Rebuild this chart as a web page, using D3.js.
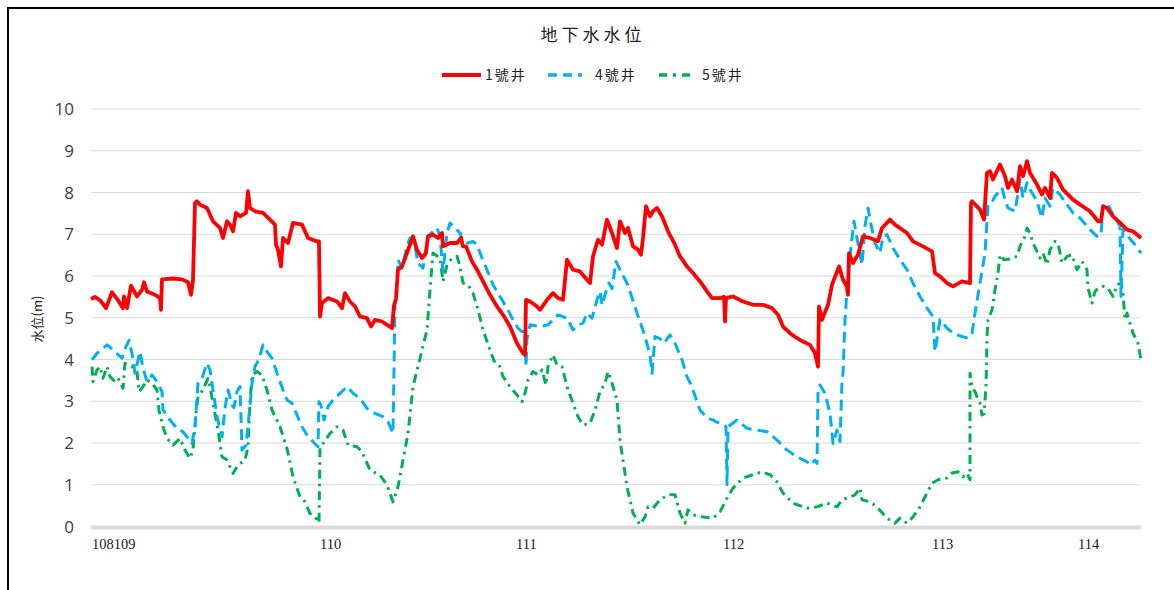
<!DOCTYPE html>
<html>
<head>
<meta charset="utf-8">
<script src="https://cdn.jsdelivr.net/npm/d3@7"></script>
<style>
  body { margin: 0; background: #fff; }
  .grid line { stroke: #d9d9d9; stroke-width: 1; }
  .ylab { font-family: "Open Sans", "Noto Sans", sans-serif; font-size: 17px; fill: #404040; }
  .xlab { font-family: "Liberation Serif", serif; font-size: 14.5px; fill: #222; }
  .cjk { font-family: "Noto Sans CJK TC", sans-serif; fill: #222; }
</style>
</head>
<body>
<svg id="svg"></svg>
<script>
// groundwater levels, x = record index, y = level (m)

var well1 = [[0,5.45],[4,5.50],[9,5.42],[15,5.23],[21,5.61],[27,5.42],[32,5.23],[33,5.51],[36,5.23],[40,5.77],[46,5.51],[51,5.67],[53,5.85],[56,5.63],[64,5.55],[69,5.47],[70,5.19],[71,5.92],[82,5.94],[91,5.92],[97,5.85],[100,5.55],[102,5.9],[104,7.75],[106,7.79],[109,7.71],[116,7.63],[122,7.31],[129,7.15],[132,6.91],[136,7.31],[139,7.23],[142,7.07],[145,7.51],[149,7.43],[155,7.51],[157,8.03],[159,7.63],[164,7.55],[172,7.51],[179,7.35],[184,7.23],[185,6.75],[187,6.63],[190,6.23],[192,6.91],[197,6.79],[202,7.27],[211,7.23],[217,6.91],[226,6.83],[228,6.83],[229,5.03],[231,5.35],[237,5.47],[246,5.39],[251,5.23],[254,5.59],[259,5.39],[264,5.27],[269,5.03],[276,4.99],[280,4.79],[284,4.95],[291,4.91],[301,4.75],[303,5.3],[305,5.45],[307,6.15],[311,6.23],[316,6.55],[322,6.95],[326,6.63],[331,6.43],[335,6.55],[337,6.95],[342,6.99],[347,6.91],[351,7.03],[352,6.71],[359,6.79],[366,6.79],[370,6.91],[372,6.71],[375,6.71],[381,6.35],[386,6.15],[392,5.87],[399,5.55],[406,5.27],[412,5.07],[419,4.79],[426,4.39],[432,4.15],[434,4.11],[435,5.43],[439,5.39],[446,5.27],[449,5.19],[456,5.43],[462,5.59],[467,5.47],[472,5.43],[476,6.39],[482,6.15],[489,6.11],[496,5.91],[499,5.83],[502,6.47],[507,6.87],[511,6.75],[516,7.35],[521,7.03],[526,6.67],[529,7.31],[534,7.03],[537,7.15],[542,6.71],[547,6.63],[550,6.51],[552,6.91],[555,7.67],[559,7.43],[562,7.55],[566,7.63],[571,7.43],[577,7.07],[584,6.75],[589,6.47],[596,6.23],[602,6.07],[609,5.87],[616,5.63],[621,5.47],[629,5.47],[633,5.50],[634,4.91],[635,5.47],[642,5.51],[652,5.39],[662,5.31],[672,5.31],[681,5.23],[687,5.07],[692,4.79],[699,4.63],[706,4.51],[712,4.43],[719,4.35],[724,4.15],[727,3.83],[728,5.27],[731,4.95],[737,5.31],[741,5.79],[748,6.23],[752,5.91],[756,5.75],[757,5.55],[758,6.55],[762,6.31],[767,6.51],[772,6.95],[779,6.91],[787,6.83],[791,7.15],[799,7.35],[804,7.23],[816,7.03],[822,6.83],[832,6.71],[841,6.59],[844,6.07],[849,5.99],[856,5.83],[862,5.75],[871,5.87],[879,5.83],[880,7.75],[881,7.79],[889,7.59],[893,7.35],[896,8.47],[899,8.51],[902,8.31],[909,8.67],[914,8.39],[917,8.11],[921,8.31],[926,8.03],[929,8.63],[932,8.39],[936,8.75],[939,8.47],[946,8.19],[951,7.95],[954,8.11],[959,7.87],[961,8.47],[966,8.35],[972,8.07],[982,7.83],[989,7.71],[999,7.55],[1007,7.31],[1010,7.31],[1012,7.67],[1016,7.63],[1022,7.43],[1031,7.23],[1036,7.11],[1042,7.07],[1050,6.91]];

var well4 = [[1,3.99],[6,4.15],[16,4.35],[22,4.23],[31,4.03],[33,4.2],[38,4.46],[41,4.15],[44,3.67],[49,4.19],[52,3.8],[56,3.47],[61,3.63],[66,3.47],[71,3.23],[72,2.79],[79,2.55],[86,2.35],[92,2.27],[101,1.99],[104,2.39],[107,3.43],[111,3.55],[116,3.91],[119,3.75],[122,3.27],[126,2.63],[131,2.15],[134,2.83],[137,3.27],[141,2.91],[143,2.85],[146,3.23],[149,3.35],[151,1.83],[155,1.95],[157,2.39],[161,3.43],[164,3.83],[168,4.0],[172,4.35],[176,4.19],[181,4.03],[186,3.67],[192,3.27],[196,3.03],[201,2.95],[206,2.67],[211,2.39],[216,2.19],[222,2.03],[227,1.91],[228,2.99],[230,2.9],[233,2.55],[237,2.87],[242,3.03],[249,3.19],[256,3.35],[262,3.19],[269,3.07],[276,2.83],[284,2.71],[292,2.63],[297,2.51],[302,2.23],[304,5.35],[306,5.83],[307,6.39],[311,6.19],[316,6.71],[319,6.91],[324,6.71],[327,6.31],[332,6.19],[337,6.95],[342,7.07],[346,7.15],[349,6.95],[352,6.11],[356,7.03],[359,7.27],[364,7.15],[369,7.03],[372,6.83],[377,6.79],[382,6.83],[386,6.75],[391,6.43],[396,6.15],[402,5.79],[409,5.51],[416,5.23],[422,4.95],[427,4.75],[431,4.67],[434,4.67],[435,3.83],[436,4.5],[439,4.83],[449,4.79],[457,4.83],[467,5.07],[476,4.99],[482,4.71],[487,4.83],[492,4.87],[496,5.11],[501,4.99],[506,5.43],[509,5.63],[511,5.3],[514,5.55],[518,5.83],[521,5.7],[525,6.35],[529,6.15],[536,5.83],[539,5.63],[546,5.11],[553,4.63],[559,4.11],[561,3.67],[564,4.55],[569,4.5],[573,4.39],[579,4.59],[584,4.39],[591,3.99],[596,3.59],[600,3.4],[609,2.79],[616,2.6],[622,2.55],[632,2.43],[635,2.40],[636,1.0],[637,2.39],[646,2.55],[656,2.35],[666,2.31],[676,2.27],[686,2.07],[696,1.83],[706,1.67],[716,1.55],[719,1.47],[724,1.59],[726,1.51],[727,3.23],[729,3.39],[734,3.19],[739,2.71],[742,1.99],[746,2.31],[749,2.03],[751,3.5],[752,3.67],[754,4.95],[757,5.99],[759,6.47],[761,6.91],[763,7.31],[766,6.91],[771,6.27],[774,7.19],[777,7.63],[780,7.23],[784,6.79],[789,6.55],[792,6.95],[796,6.99],[802,6.67],[809,6.39],[816,6.15],[822,5.83],[829,5.51],[836,5.23],[842,5.03],[844,4.19],[849,4.95],[856,4.75],[862,4.63],[871,4.55],[877,4.51],[881,4.63],[884,5.11],[889,5.83],[894,6.55],[897,7.67],[899,7.67],[904,7.91],[911,8.11],[914,7.83],[917,7.63],[924,7.55],[927,7.99],[929,8.31],[932,7.87],[936,8.23],[939,8.07],[946,7.79],[951,7.39],[954,7.87],[959,7.67],[962,8.11],[969,7.95],[976,7.71],[982,7.51],[989,7.39],[999,7.11],[1006,6.95],[1010,6.97],[1012,7.67],[1016,7.75],[1022,7.47],[1029,7.19],[1030,5.51],[1032,7.11],[1037,6.95],[1044,6.75],[1050,6.55]];

var well5 = [[1,3.83],[2,3.47],[6,3.75],[9,3.83],[12,3.55],[16,3.83],[19,3.59],[24,3.47],[27,3.55],[32,3.31],[34,3.91],[41,3.83],[46,3.71],[48,3.23],[52,3.35],[56,3.51],[61,3.43],[66,3.27],[68,2.79],[72,2.39],[76,2.11],[82,1.95],[89,2.11],[94,1.83],[99,1.63],[102,1.83],[105,2.71],[107,3.11],[112,3.27],[117,3.55],[119,3.35],[122,2.95],[127,2.31],[131,1.67],[136,1.59],[142,1.27],[147,1.47],[154,1.59],[157,1.91],[159,2.95],[161,3.63],[166,3.71],[171,3.63],[176,3.27],[181,2.79],[189,2.39],[196,1.87],[202,1.19],[209,0.71],[214,0.59],[219,0.31],[224,0.23],[228,0.09],[229,1.91],[232,1.99],[239,2.23],[246,2.39],[252,2.31],[257,1.95],[266,1.91],[271,1.79],[279,1.35],[289,1.23],[296,0.99],[302,0.59],[307,0.95],[312,1.59],[317,2.23],[322,3.35],[329,4.03],[336,4.71],[339,5.67],[342,6.55],[349,6.43],[352,5.87],[356,6.27],[361,6.43],[366,6.47],[369,6.23],[372,5.83],[377,5.79],[382,5.59],[387,5.19],[392,4.71],[399,4.23],[404,3.91],[409,3.83],[412,3.59],[419,3.35],[426,3.15],[431,2.99],[434,3.19],[437,3.51],[442,3.71],[447,3.63],[451,3.75],[455,3.39],[457,3.83],[462,4.11],[466,3.87],[471,3.83],[476,3.35],[482,2.95],[487,2.63],[492,2.43],[499,2.47],[504,2.79],[509,3.23],[514,3.43],[517,3.71],[521,3.43],[526,3.03],[529,2.07],[531,1.75],[536,0.95],[542,0.32],[549,0.04],[554,0.23],[557,0.47],[562,0.44],[569,0.64],[577,0.76],[584,0.76],[589,0.32],[594,0.08],[597,0.40],[602,0.28],[612,0.23],[622,0.20],[629,0.35],[636,0.68],[642,0.92],[652,1.16],[662,1.24],[671,1.31],[679,1.24],[686,1.07],[692,0.80],[702,0.56],[716,0.44],[726,0.47],[736,0.56],[746,0.47],[751,0.64],[759,0.71],[764,0.76],[769,0.92],[771,0.64],[779,0.59],[786,0.47],[796,0.20],[804,0.08],[809,0.20],[816,0.08],[822,0.23],[829,0.47],[836,0.80],[841,1.04],[847,1.12],[856,1.16],[861,1.28],[867,1.31],[872,1.19],[876,1.28],[879,1.12],[879,3.67],[881,3.35],[884,3.23],[886,3.11],[889,2.95],[891,2.67],[893,2.7],[895,3.35],[896,4.55],[897,4.95],[901,5.19],[904,5.67],[907,6.07],[909,6.51],[913,6.39],[917,6.4],[926,6.47],[929,6.71],[934,6.95],[936,7.15],[939,7.03],[942,6.79],[946,6.59],[949,6.43],[952,6.55],[956,6.27],[959,6.63],[964,6.83],[967,6.79],[971,6.31],[976,6.47],[981,6.51],[986,6.15],[991,6.35],[996,6.15],[997,5.71],[1001,5.35],[1004,5.63],[1007,5.71],[1012,5.75],[1017,5.71],[1022,5.51],[1026,5.79],[1030,5.83],[1032,5.59],[1034,4.95],[1036,5.11],[1039,4.87],[1042,4.63],[1047,4.39],[1050,3.99]];

var seriesNames = ["1號井", "4號井", "5號井"];
var yTicks = [0,1,2,3,4,5,6,7,8,9,10];
var xTickIdx = [1, 229, 425, 632, 841, 987];
var xTickLabels = ["108109", "110", "111", "112", "113", "114"];

svg = d3.select("#svg")
          .attr("width", "1174")
          .attr("height", "590");

// outer frame
svg.append("rect")
    .attr("x", 8).attr("y", 8)
    .attr("width", 1300).attr("height", 700)
    .attr("fill", "none").attr("stroke", "#000").attr("stroke-width", 2);

var x = d3.scaleLinear().domain([0, 1050]).range([91, 1141]);
var y = d3.scaleLinear().domain([0, 10]).range([526.5, 109]);

// gridlines
svg.append("g").attr("class","grid")
    .selectAll("line").data(yTicks.slice(1)).enter()
    .append("line")
      .attr("x1", x(0)).attr("x2", x(1050))
      .attr("y1", d => y(d)).attr("y2", d => y(d));

// baseline
svg.append("line")
    .attr("x1", x(0)).attr("x2", x(1050))
    .attr("y1", y(0) + 1).attr("y2", y(0) + 1)
    .attr("stroke", "#d9d9d9").attr("stroke-width", 4);

svg.append("g").selectAll("text").data(yTicks).enter()
    .append("text").attr("class","ylab")
      .attr("x", 74).attr("y", d => y(d) + 6)
      .attr("text-anchor","end")
      .text(d => d);

svg.append("g").selectAll("text").data(xTickIdx).enter()
    .append("text").attr("class","xlab")
      .attr("x", d => x(d)).attr("y", 549)
      .text((d,i) => xTickLabels[i]);

svg.append("text").attr("class","cjk")
    .attr("transform","translate(42 319) rotate(-90)")
    .attr("text-anchor","middle")
    .style("font-size","13px")
    .text("水位(m)");

svg.append("text").attr("class","cjk")
    .attr("x", 593).attr("y", 41)
    .attr("text-anchor","middle")
    .style("font-size","17px").style("letter-spacing","4px")
    .text("地下水水位");

var styles = [
  {color:"#ff0000", width:3.8, dash:null},
  {color:"#00b0f0", width:3, dash:"11,6"},
  {color:"#00b050", width:3, dash:"9,5,2.5,5"}
];

var line = d3.line().x(d => x(d[0])).y(d => y(d[1]));

[well5, well4, well1].forEach(function(s){
  var k = s === well1 ? 0 : (s === well4 ? 1 : 2);
  svg.append("path")
      .attr("d", line(s))
      .attr("fill","none")
      .attr("stroke", styles[k].color)
      .attr("stroke-width", styles[k].width)
      .attr("stroke-linejoin","round")
      .attr("stroke-dasharray", styles[k].dash);
});

// legend
var legX = [442, 548, 659];
var leg = svg.append("g").selectAll("g").data(seriesNames).enter().append("g");
leg.append("line")
    .attr("x1", (d,i) => legX[i]).attr("x2", (d,i) => legX[i] + (i == 0 ? 39 : 34))
    .attr("y1", 75).attr("y2", 75)
    .attr("stroke", (d,i) => styles[i].color)
    .attr("stroke-width", (d,i) => i == 0 ? 4 : 3.5)
    .attr("stroke-dasharray", (d,i) => i == 1 ? "9,6" : (i == 2 ? "8,6,3,6" : null));
leg.append("text").attr("class","cjk")
    .attr("x", (d,i) => legX[i] + (i == 0 ? 43 : 47 - (i == 2 ? 4 : 0)))
    .attr("y", 80)
    .style("font-size","14px").style("letter-spacing","2px")
    .text(d => d);
</script>
</body>
</html>
